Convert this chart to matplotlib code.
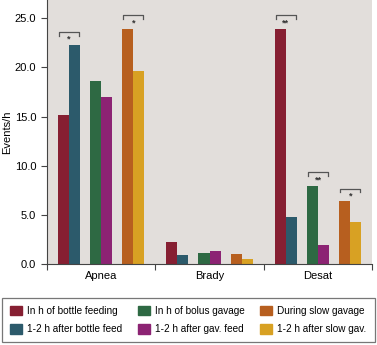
import numpy as np
import matplotlib.pyplot as plt
from matplotlib.patches import Patch

plt.rcParams['font.family'] = ['Liberation Sans', 'DejaVu Sans']

categories = ['Apnea', 'Brady', 'Desat']
series = ['In h of bottle feeding', '1-2 h after bottle feed',
          'In h of bolus gavage', '1-2 h after gav. feed',
          'During slow gavage', '1-2 h after slow gav.']
colors = ['#861f32', '#2c5a6b', '#2e6943', '#8c2373', '#b75f1f', '#d8a123']
values = [
    [15.15, 2.3, 23.9],   # in h of bottle feeding
    [22.3, 0.95, 4.85],   # 1-2 h after bottle feed
    [18.6, 1.15, 8.0],    # in h of bolus gavage
    [17.0, 1.35, 2.0],    # 1-2 h after gav. feed
    [23.95, 1.05, 6.4],   # during slow gavage
    [19.6, 0.55, 4.25],   # 1-2 h after slow gav.
]
# significance brackets: (category index, pair index, bracket height, label)
sig = [(0, 0, 23.6, '*'), (0, 2, 25.3, '*'),
       (2, 0, 25.3, '**'), (2, 1, 9.35, '**'), (2, 2, 7.7, '*')]

fig = plt.figure(figsize=(3.77, 3.45), dpi=100)
ax = fig.add_axes([0.124, 0.234, 0.863, 0.766])
ax.set_facecolor('#e2dedb')

bw = 0.102
gap = 0.093
start = 0.102

def bar_left(cat, i):
    pair = i // 2
    return cat + start + pair * (2 * bw + gap) + (i % 2) * bw

for i, vals in enumerate(values):
    xs = [bar_left(c, i) for c in range(len(categories))]
    ax.bar(xs, vals, width=bw, align='edge', color=colors[i], label=series[i])

for cat, pair, h, lab in sig:
    x0 = bar_left(cat, pair * 2) + 0.01
    x1 = bar_left(cat, pair * 2 + 1) + bw - 0.01
    ax.plot([x0, x0, x1, x1], [h - 0.4, h, h, h - 0.4], color='#555555', lw=0.9)
    ax.text((x0 + x1) / 2, h - 0.3, lab, ha='center', va='top', fontsize=6.5,
            fontweight='bold', color='#333333')

ax.set_xlim(0, 3)
ax.set_ylim(0, 26.86)
ax.set_yticks([0, 5, 10, 15, 20, 25])
ax.set_yticklabels(['0.0', '5.0', '10.0', '15.0', '20.0', '25.0'], fontsize=8)
ax.set_xticks([0, 1, 2, 3])
ax.set_xticklabels([])
ax.set_xticks([0.5, 1.5, 2.5], minor=True)
ax.set_xticklabels(categories, minor=True, fontsize=8)
ax.tick_params(axis='x', which='minor', length=0, pad=5)
ax.tick_params(axis='both', which='major', length=4, width=0.8, color='#444444')
ax.set_ylabel('Events/h', fontsize=8, labelpad=2)
for s in ['top', 'right']:
    ax.spines[s].set_visible(False)
for s in ['left', 'bottom']:
    ax.spines[s].set_color('#444444')
    ax.spines[s].set_linewidth(0.8)

handles = [Patch(color=c) for c in colors]
leg = fig.legend(handles, series, ncol=3, loc='lower left',
                 bbox_to_anchor=(0.006, 0.008, 0.988, 0.13), mode='expand',
                 fontsize=7.2, frameon=True,
                 fancybox=False, edgecolor='#555555', handlelength=1.2,
                 handleheight=1.1, handletextpad=0.5, columnspacing=1.0,
                 borderpad=0.8, labelspacing=0.8, borderaxespad=0)
leg.get_frame().set_linewidth(0.9)

fig.savefig('out.png', dpi=100)
